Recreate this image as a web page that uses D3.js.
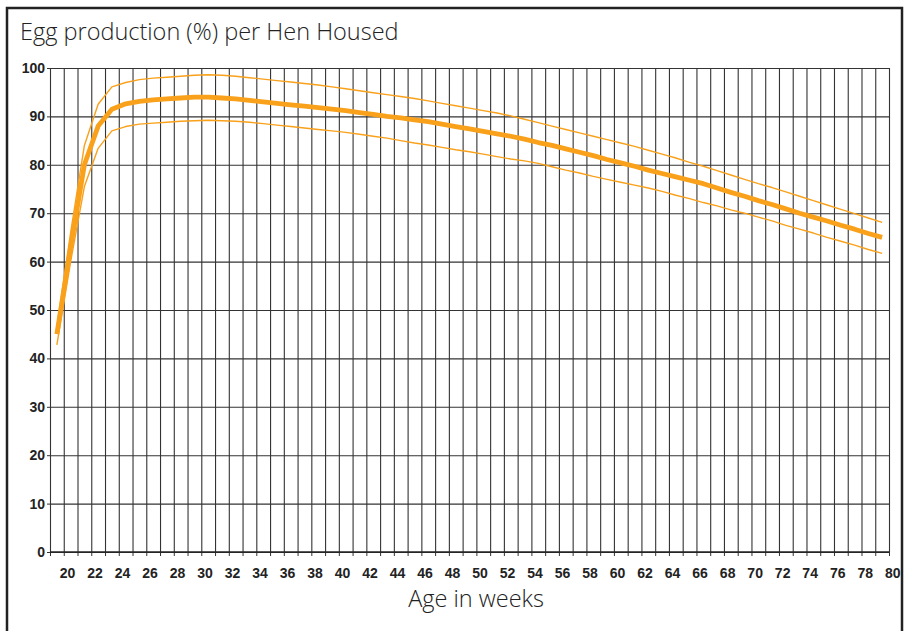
<!DOCTYPE html>
<html>

<head>
    <meta charset="utf-8">
    <style>
        body {
            margin: 0;
            background-color: white;
        }

        #chart svg {
            display: block;
        }

        .title {
            font-family: "Open Sans", Lato, sans-serif;
            font-weight: 300;
            font-variant-ligatures: none;
            fill: #222;
        }
    </style>
</head>

<body>
    <div id="chart"></div>
    <script src="https://cdn.jsdelivr.net/npm/d3@7"></script>
    <script>
        // weeks of age, one value per week
        const weeks = d3.range(19, 80);

        const standard = [45.0, 63.0, 80.0, 88.0, 91.5, 92.6, 93.1, 93.4, 93.6, 93.8,
            94.0, 94.0, 93.8, 93.6, 93.3, 93.0, 92.7, 92.4, 92.1, 91.8,
            91.5, 91.2, 90.8, 90.4, 90.0, 89.7, 89.3, 88.9, 88.4, 87.9,
            87.4, 86.9, 86.4, 85.9, 85.3, 84.6, 84.0, 83.3, 82.6, 81.9,
            81.1, 80.4, 79.7, 78.9, 78.2, 77.5, 76.8, 76.1, 75.2, 74.3,
            73.5, 72.6, 71.8, 70.9, 70.0, 69.2, 68.4, 67.5, 66.7, 65.8,
            65.0
        ];

        const upper = [46.5, 66.0, 84.0, 92.5, 96.1, 97.0, 97.6, 97.9, 98.1, 98.3,
            98.5, 98.6, 98.5, 98.3, 98.0, 97.7, 97.4, 97.1, 96.8, 96.5,
            96.1, 95.7, 95.3, 94.9, 94.5, 94.1, 93.7, 93.2, 92.7, 92.2,
            91.7, 91.2, 90.7, 90.1, 89.4, 88.7, 88.0, 87.3, 86.6, 85.9,
            85.2, 84.5, 83.8, 83.0, 82.2, 81.4, 80.5, 79.7, 78.8, 77.9,
            77.0, 76.1, 75.3, 74.4, 73.5, 72.6, 71.7, 70.8, 69.9, 69.0,
            68.1
        ];

        const lower = [42.8, 60.0, 75.5, 83.4, 87.0, 87.9, 88.4, 88.6, 88.8, 89.0,
            89.1, 89.2, 89.1, 89.0, 88.8, 88.5, 88.2, 87.9, 87.6, 87.3,
            87.0, 86.7, 86.3, 85.9, 85.5, 85.0, 84.5, 84.1, 83.6, 83.1,
            82.7, 82.2, 81.7, 81.2, 80.8, 80.3, 79.6, 78.9, 78.3, 77.6,
            77.0, 76.4, 75.8, 75.2, 74.5, 73.7, 73.0, 72.2, 71.5, 70.7,
            70.0, 69.2, 68.4, 67.5, 66.7, 65.9, 65.0, 64.2, 63.4, 62.5,
            61.7
        ];

        const weekLabels = d3.range(20, 81, 2);
        const yTicks = d3.range(0, 101, 10);

        const width = 906;
        const height = 631;
        const margin = { top: 68, right: 17, bottom: 79, left: 50 };
        const orange = '#f9a11b';

        const svg = d3.select('#chart').append('svg')
            .attr('width', width)
            .attr('height', height);

        // outer frame
        svg.append('rect')
            .attr('x', 7)
            .attr('y', 8)
            .attr('width', 895)
            .attr('height', 640)
            .attr('fill', 'none')
            .attr('stroke', '#222')
            .attr('stroke-width', 2.5);

        const x = d3.scaleLinear()
            .domain([weeks[0] - 0.5, weeks[weeks.length - 1] + 0.5])
            .range([margin.left, width - margin.right]);

        const y = d3.scaleLinear()
            .domain([0, 100])
            .range([height - margin.bottom, margin.top]);

        const plotW = width - margin.left - margin.right;
        const plotH = height - margin.top - margin.bottom;

        // vertical grid at the week boundaries
        const boundaries = weeks.map(w => w - 0.5).concat([weeks[weeks.length - 1] + 0.5]);
        const xGrid = svg.append('g')
            .attr('transform', `translate(0, ${height - margin.bottom})`)
            .call(d3.axisBottom(x).tickValues(boundaries).tickSize(-plotH).tickFormat(''));
        xGrid.select('.domain').remove();
        xGrid.selectAll('line').attr('stroke', '#333').attr('stroke-width', 1.1);

        // short ticks under the baseline
        svg.append('g')
            .attr('transform', `translate(0, ${height - margin.bottom})`)
            .call(d3.axisBottom(x).tickValues(boundaries).tickSize(4).tickFormat(''))
            .call(g => g.select('.domain').remove())
            .selectAll('line').attr('stroke', '#333');

        // horizontal grid
        const yGrid = svg.append('g')
            .attr('transform', `translate(${margin.left}, 0)`)
            .call(d3.axisLeft(y).tickValues(yTicks).tickSize(-plotW).tickFormat(''));
        yGrid.select('.domain').remove();
        yGrid.selectAll('line').attr('stroke', '#333').attr('stroke-width', 1.1);

        // y axis with labels
        const yAxis = svg.append('g')
            .attr('transform', `translate(${margin.left}, 0)`)
            .call(d3.axisLeft(y).tickValues(yTicks).tickSize(3).tickPadding(2));
        yAxis.select('.domain').attr('stroke', '#333');
        yAxis.selectAll('line').attr('stroke', '#333');
        yAxis.selectAll('text')
            .style('font-family', '"Liberation Sans", Arial, sans-serif')
            .style('font-size', '14px')
            .style('font-weight', 'bold')
            .attr('fill', '#222');

        // x labels, every second week
        const xAxis = svg.append('g')
            .attr('transform', `translate(-3.7, ${height - margin.bottom})`)
            .call(d3.axisBottom(x).tickValues(weekLabels).tickSize(0).tickPadding(16));
        xAxis.select('.domain').remove();
        xAxis.selectAll('text')
            .style('font-family', '"Liberation Sans", Arial, sans-serif')
            .style('font-size', '14px')
            .style('font-weight', 'bold')
            .attr('fill', '#222');

        // baseline on top of the grid
        svg.append('line')
            .attr('x1', margin.left)
            .attr('x2', width - margin.right)
            .attr('y1', y(0))
            .attr('y2', y(0))
            .attr('stroke', '#222')
            .attr('stroke-width', 1.3);

        const line = d3.line()
            .x((d, i) => x(weeks[i]))
            .y(d => y(d));

        [upper, lower].forEach(series => {
            svg.append('path')
                .datum(series)
                .attr('d', line)
                .attr('fill', 'none')
                .attr('stroke', orange)
                .attr('stroke-width', 1.4)
                .attr('stroke-linejoin', 'round');
        });

        svg.append('path')
            .datum(standard)
            .attr('d', line)
            .attr('fill', 'none')
            .attr('stroke', orange)
            .attr('stroke-width', 4.8)
            .attr('stroke-linejoin', 'round');

        // titles
        svg.append('text')
            .attr('class', 'title')
            .attr('x', 20)
            .attr('y', 40)
            .style('font-size', '23.5px')
            .text('Egg production (%) per Hen Housed');

        svg.append('text')
            .attr('class', 'title')
            .attr('x', 476)
            .attr('y', 607)
            .attr('text-anchor', 'middle')
            .style('font-size', '23.5px')
            .text('Age in weeks');
    </script>
</body>

</html>
